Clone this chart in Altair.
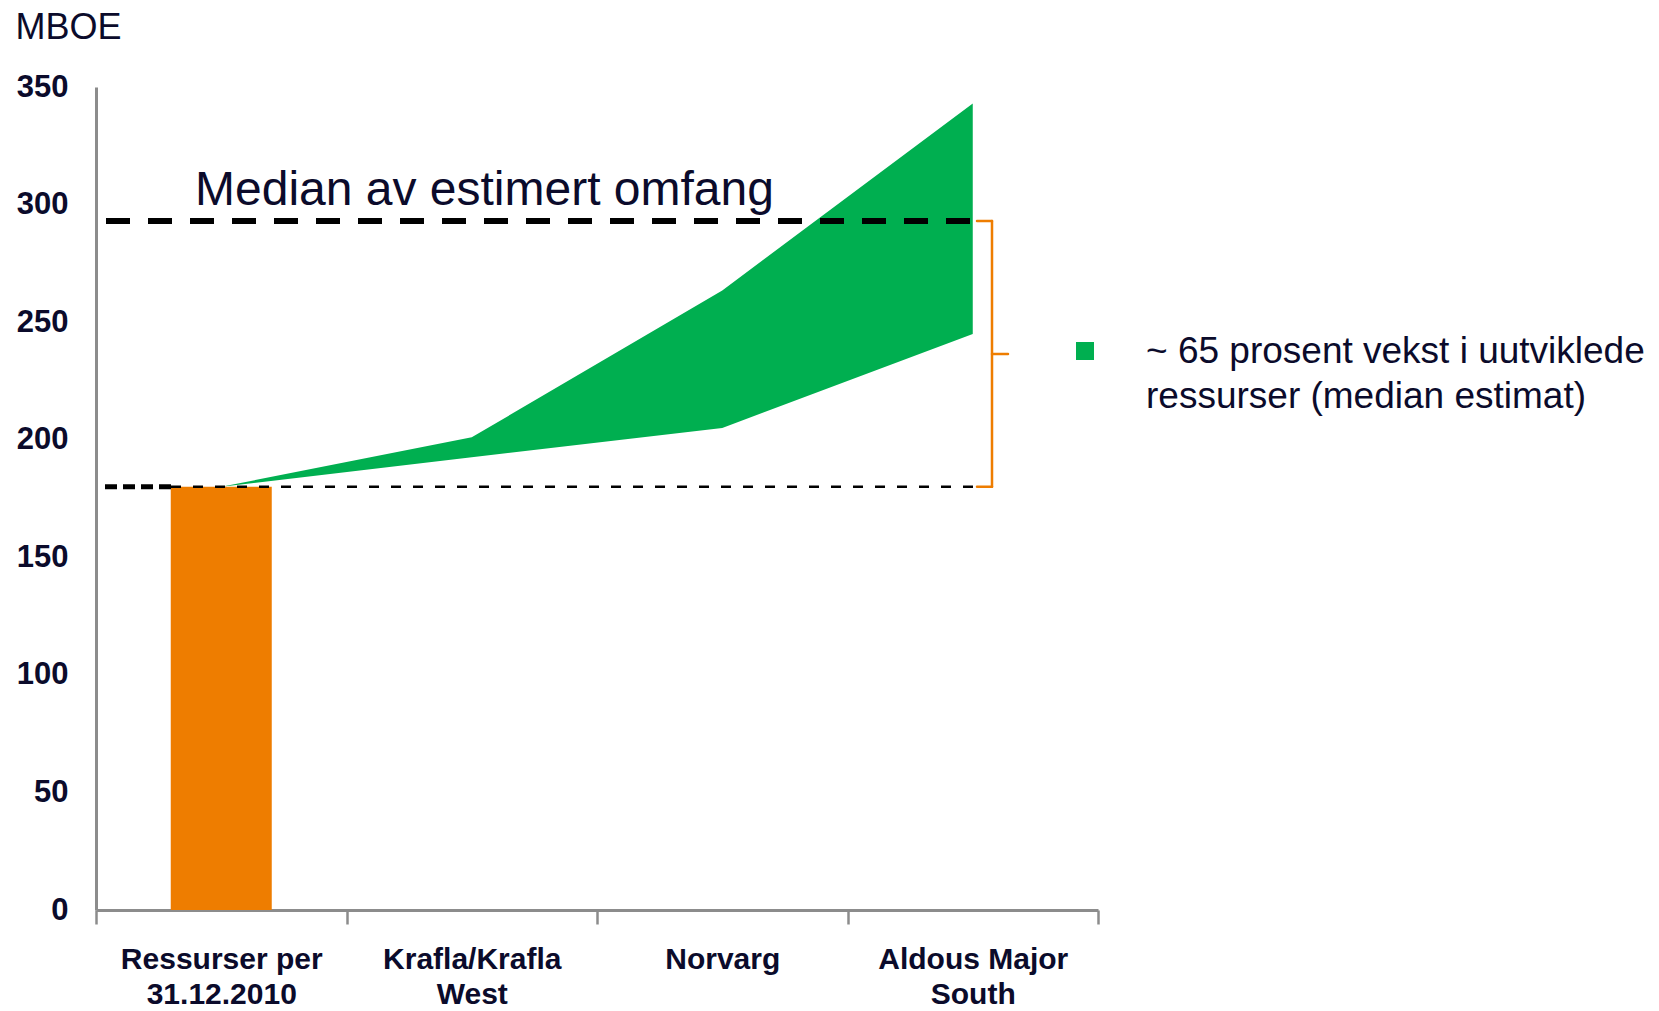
import altair as alt
import pandas as pd

# ---------------- data ----------------
categories = ["Ressurser per|31.12.2010", "Krafla/Krafla|West", "Norvarg", "Aldous Major|South"]
bar_category = ["Ressurser per|31.12.2010"]
bar_values = [180]
upper_values = [180, 201, 263.5, 343]
lower_values = [180, 192.5, 205, 245]
median_value = [293]
base_value = [180]
y_ticks = [0, 50, 100, 150, 200, 250, 300, 350]
annotation = ["Median av estimert omfang"]
legend_lines = ["~ 65 prosent vekst i uutviklede", "ressurser (median estimat)"]
y_title = "MBOE"

# ---------------- styles ----------------
ORANGE = "#EE7D00"
GREEN = "#00AF50"
TEXT = "#0b0b2b"
AXIS = "#8c8c8c"
FONT = "Liberation Sans"
W, H = 1002, 823

area_df = pd.DataFrame({"cat": categories, "upper": upper_values, "lower": lower_values})
bar_df = pd.DataFrame({"cat": bar_category, "value": bar_values})
median_df = pd.DataFrame({"v": median_value, "t": annotation})
base_df = pd.DataFrame({"v": base_value})
brace_df = pd.DataFrame({"top": median_value, "bottom": base_value,
                         "mid": [(median_value[0] + base_value[0]) / 2]})
one_df = pd.DataFrame({"d": [0]})

x_scale = alt.Scale(domain=categories, paddingInner=0, paddingOuter=0)
y_scale = alt.Scale(domain=[0, 350], nice=False, zero=True)

x_axis = alt.Axis(
    title=None, labelExpr="split(datum.label, '|')", labelFont=FONT, labelFontSize=30,
    labelFontWeight="bold", labelColor=TEXT, labelAngle=0, labelLineHeight=35,
    labelPadding=20, labelBaseline="top", labelLimit=0, tickBand="extent", tickSize=14,
    tickWidth=2.5, tickColor=AXIS, domainColor=AXIS, domainWidth=3, grid=False,
)
y_axis = alt.Axis(
    values=y_ticks, title=y_title, titleAngle=0, titleX=-81, titleY=-49, titleAlign="left",
    titleBaseline="alphabetic", titleFont=FONT, titleFontSize=36, titleFontWeight="normal",
    titleColor=TEXT, labelFont=FONT, labelFontSize=31, labelFontWeight="bold",
    labelColor=TEXT, labelPadding=28, ticks=False, tickSize=0, domainColor=AXIS,
    domainWidth=3, grid=False,
)

area = alt.Chart(area_df).mark_area(color=GREEN, opacity=1, interpolate="linear").encode(
    x=alt.X("cat:N", scale=x_scale, axis=x_axis, bandPosition=0.5),
    y=alt.Y("upper:Q", scale=y_scale, axis=y_axis),
    y2="lower:Q",
)
bar = alt.Chart(bar_df).mark_bar(color=ORANGE, size=101).encode(
    x=alt.X("cat:N"), y=alt.Y("value:Q"),
)

median_rule = alt.Chart(median_df).mark_rule(color="black", strokeWidth=6, strokeDash=[24, 18]).encode(
    x=alt.value(10), x2=alt.value(874), y="v:Q")
base_thick = alt.Chart(base_df).mark_rule(color="black", strokeWidth=5, strokeDash=[12, 6]).encode(
    x=alt.value(9), x2=alt.value(75), y="v:Q")
base_thin = alt.Chart(base_df).mark_rule(color="black", strokeWidth=2.5, strokeDash=[10, 12]).encode(
    x=alt.value(75), x2=alt.value(879), y="v:Q")

bstyle = dict(color=ORANGE, strokeWidth=2.5, strokeCap="round")
brace_top = alt.Chart(brace_df).mark_rule(**bstyle).encode(x=alt.value(881), x2=alt.value(896), y="top:Q")
brace_vert = alt.Chart(brace_df).mark_rule(**bstyle).encode(x=alt.value(896), y="top:Q", y2="bottom:Q")
brace_mid = alt.Chart(brace_df).mark_rule(**bstyle).encode(x=alt.value(896), x2=alt.value(912), y="mid:Q")
brace_bot = alt.Chart(brace_df).mark_rule(**bstyle).encode(x=alt.value(881), x2=alt.value(896), y="bottom:Q")

median_text = alt.Chart(median_df).mark_text(
    align="left", baseline="alphabetic", dy=-16, font=FONT, fontSize=48, color=TEXT
).encode(x=alt.value(99), y="v:Q", text="t:N")

legend_sq = alt.Chart(one_df).mark_square(size=324, color=GREEN, opacity=1, filled=True).encode(
    x=alt.value(989), y=alt.value(264))
legend_txt = alt.Chart(one_df).mark_text(
    align="left", baseline="alphabetic", lineHeight=45, font=FONT, fontSize=37, color=TEXT
).encode(x=alt.value(1050), y=alt.value(276), text=alt.value(legend_lines))

chart = alt.layer(
    area, bar, median_rule, base_thick, base_thin,
    brace_top, brace_vert, brace_mid, brace_bot,
    median_text, legend_sq, legend_txt,
).properties(
    width=W, height=H,
    autosize=alt.AutoSizeParams(type="none"),
    padding={"left": 96, "top": 87, "right": 1659 - 96 - W, "bottom": 1011 - 87 - H},
).configure_view(stroke=None)

chart.save("out.html", embed_options={"renderer": "svg", "actions": False})
